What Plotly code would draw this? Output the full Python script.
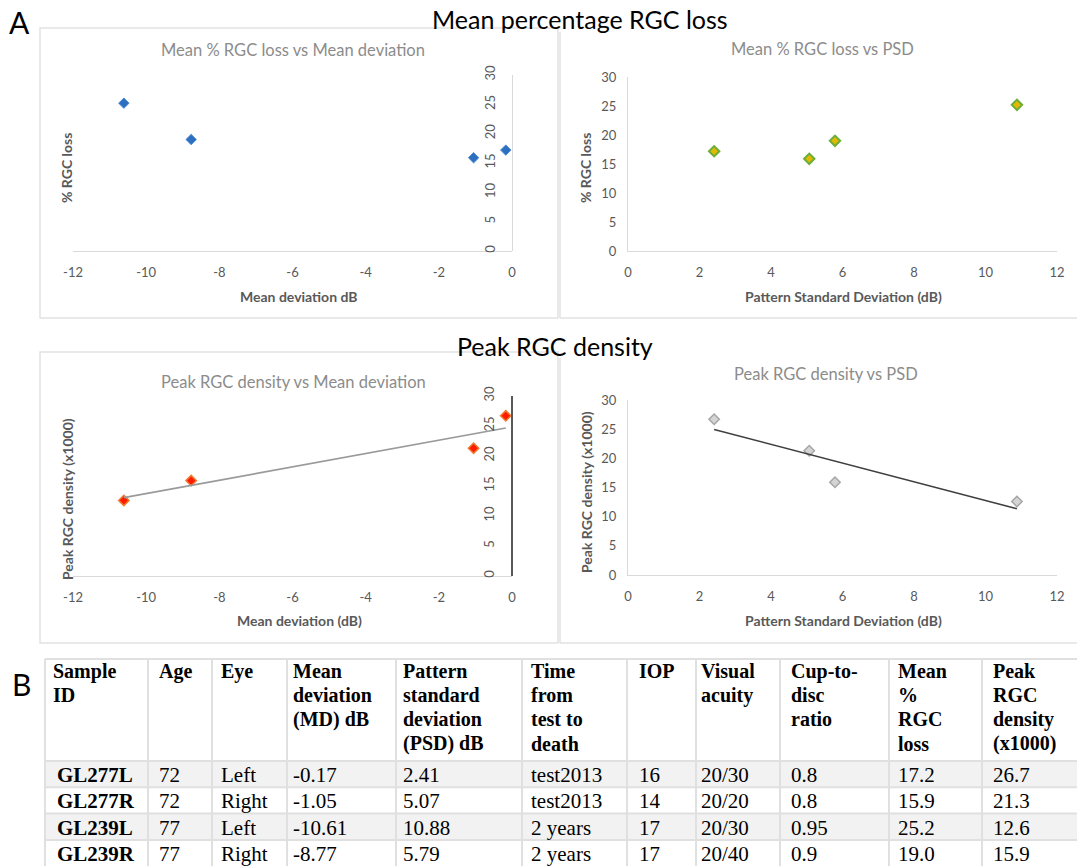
import numpy as np
import plotly.graph_objects as go

# Patient data
sample_ids = ["GL277L", "GL277R", "GL239L", "GL239R"]
ages = [72, 72, 77, 77]
eyes = ["Left", "Right", "Left", "Right"]
md = [-0.17, -1.05, -10.61, -8.77]
psd = [2.41, 5.07, 10.88, 5.79]
time_to_death = ["test2013", "test2013", "2 years", "2 years"]
iop = [16, 14, 17, 17]
visual_acuity = ["20/30", "20/20", "20/30", "20/40"]
cup_disc = ["0.8", "0.8", "0.95", "0.9"]
rgc_loss = [17.2, 15.9, 25.2, 19.0]
peak_density = [26.7, 21.3, 12.6, 15.9]

header_labels = [
    "Sample<br>ID", "Age", "Eye", "Mean<br>deviation<br>(MD) dB",
    "Pattern<br>standard<br>deviation<br>(PSD) dB", "Time<br>from<br>test to<br>death",
    "IOP", "Visual<br>acuity", "Cup-to-<br>disc<br>ratio", "Mean<br>%<br>RGC<br>loss",
    "Peak<br>RGC<br>density<br>(x1000)",
]

# axis ticks
md_ticks = [-12, -10, -8, -6, -4, -2, 0]
md_tick_text = ["-12", "-10", "-8", "-6", "-4", "-2", "0"]
psd_ticks = [0, 2, 4, 6, 8, 10, 12]
y_ticks = [0, 5, 10, 15, 20, 25, 30]

W, H = 1077, 866


def fx(x):
    return x / W


def fy(y):
    return 1 - y / H


GRAY_TXT = "#595959"
TITLE_TXT = "#8c8c8c"
FONT = "Lato"
SERIF = "Liberation Serif"

fig = go.Figure()

# plotting areas in pixels
panels = {
    "tl": dict(x=(73, 512), y=(75, 251)),
    "tr": dict(x=(628, 1057), y=(77, 251)),
    "bl": dict(x=(73, 512), y=(396, 576)),
    "br": dict(x=(628, 1057), y=(400, 575)),
}
axis_ids = {"tl": ("x", "y"), "tr": ("x2", "y2"), "bl": ("x3", "y3"), "br": ("x4", "y4")}

# scatter series
fig.add_trace(go.Scatter(x=md, y=rgc_loss, mode="markers", xaxis="x", yaxis="y",
                         marker=dict(symbol="diamond", size=8, color="#2f6fc0",
                                     line=dict(color="#4a8ad8", width=1))))
fig.add_trace(go.Scatter(x=psd, y=rgc_loss, mode="markers", xaxis="x2", yaxis="y2",
                         marker=dict(symbol="diamond", size=8, color="#e3b800",
                                     line=dict(color="#6cae3a", width=2))))
fig.add_trace(go.Scatter(x=md, y=peak_density, mode="markers", xaxis="x3", yaxis="y3",
                         marker=dict(symbol="diamond", size=8, color="#ff1a00",
                                     line=dict(color="#f07a30", width=1.5))))
fig.add_trace(go.Scatter(x=psd, y=peak_density, mode="markers", xaxis="x4", yaxis="y4",
                         marker=dict(symbol="diamond", size=8, color="#d4d4d4",
                                     line=dict(color="#a6a6a6", width=1.5))))

# linear trendlines
for xs, ys, xa, ya, col in [(md, peak_density, "x3", "y3", "#9a9a9a"),
                            (psd, peak_density, "x4", "y4", "#3f3f3f")]:
    k, b = np.polyfit(xs, ys, 1)
    xe = np.array([min(xs), max(xs)])
    fig.add_trace(go.Scatter(x=xe, y=k * xe + b, mode="lines", xaxis=xa, yaxis=ya,
                             line=dict(color=col, width=1.6)))

tick_font = dict(family=FONT, size=13, color=GRAY_TXT)
layout = dict(
    width=W, height=H,
    margin=dict(l=0, r=0, t=0, b=0, pad=0, autoexpand=False),
    paper_bgcolor="white", plot_bgcolor="rgba(0,0,0,0)", showlegend=False,
)
for key, (xa, ya) in axis_ids.items():
    p = panels[key]
    xdom = [fx(p["x"][0]), fx(p["x"][1])]
    ydom = [fy(p["y"][1]), fy(p["y"][0])]
    xname = "xaxis" if xa == "x" else "xaxis" + xa[1:]
    yname = "yaxis" if ya == "y" else "yaxis" + ya[1:]
    left = key in ("tl", "bl")
    xcfg = dict(domain=xdom, anchor=ya, showgrid=False, zeroline=False, showline=True,
                linecolor="#d9d9d9", linewidth=1, ticks="outside", ticklen=9,
                tickcolor="rgba(0,0,0,0)", tickfont=tick_font, fixedrange=True,
                automargin=False)
    if left:
        xcfg.update(range=[-12, 0], tickvals=md_ticks, ticktext=md_tick_text)
    else:
        xcfg.update(range=[0, 12], tickvals=psd_ticks)
    layout[xname] = xcfg
    ycfg = dict(domain=ydom, range=[0, 30], tickvals=y_ticks, showgrid=False,
                zeroline=False, showline=True, linewidth=1, linecolor="#d9d9d9",
                tickfont=tick_font, fixedrange=True, automargin=False)
    if left:
        ycfg.update(anchor="free", position=xdom[1], side="left", tickangle=-90,
                    ticks="outside", ticklen=12, tickcolor="rgba(0,0,0,0)")
        if key == "bl":
            ycfg.update(linecolor="#595959", linewidth=2)
    else:
        ycfg.update(anchor=xa, ticks="outside", ticklen=8, tickcolor="rgba(0,0,0,0)")
    layout[yname] = ycfg

fig.update_layout(**layout)

# panel frames
shapes = [
    dict(type="rect", x0=fx(40), x1=fx(558), y0=fy(318), y1=fy(28)),
    dict(type="line", x0=fx(560), x1=fx(560), y0=fy(318), y1=fy(32)),
    dict(type="line", x0=fx(560), x1=1, y0=fy(318), y1=fy(318)),
    dict(type="rect", x0=fx(40), x1=fx(558), y0=fy(643), y1=fy(352)),
    dict(type="line", x0=fx(560), x1=fx(560), y0=fy(643), y1=fy(358)),
    dict(type="line", x0=fx(560), x1=1, y0=fy(643), y1=fy(643)),
]
for s in shapes:
    s.update(xref="paper", yref="paper", line=dict(color="#e2e2e2", width=1.5))


def note(text, x, y, size, color, bold=False, angle=0, family=FONT, xanchor="center"):
    fig.add_annotation(text=f"<b>{text}</b>" if bold else text, x=fx(x), y=fy(y),
                       xref="paper", yref="paper", showarrow=False, textangle=angle,
                       font=dict(family=family, size=size, color=color),
                       xanchor=xanchor, yanchor="middle", borderpad=0)


# section labels and headings
note("A", 20, 22, 30, "black")
note("B", 21, 684, 30, "black")
note("Mean percentage RGC loss", 580, 19, 25, "black")
note("Peak RGC density", 555, 346, 25, "black")

# chart titles
note("Mean % RGC loss vs Mean deviation", 293, 50, 16.5, TITLE_TXT)
note("Mean % RGC loss vs PSD", 822, 49, 16.5, TITLE_TXT)
note("Peak RGC density vs Mean deviation", 293, 382, 16.5, TITLE_TXT)
note("Peak RGC density vs PSD", 826, 374, 16.5, TITLE_TXT)

# axis titles
note("Mean deviation dB", 299, 296, 14, GRAY_TXT, bold=True)
note("Pattern Standard Deviation (dB)", 843, 296, 14, GRAY_TXT, bold=True)
note("Mean deviation (dB)", 299, 620, 14, GRAY_TXT, bold=True)
note("Pattern Standard Deviation (dB)", 843, 620, 14, GRAY_TXT, bold=True)
note("% RGC loss", 66, 168, 14, GRAY_TXT, bold=True, angle=-90)
note("% RGC loss", 585, 168, 14, GRAY_TXT, bold=True, angle=-90)
note("Peak RGC density (x1000)", 67, 499, 14, GRAY_TXT, bold=True, angle=-90)
note("Peak RGC density (x1000)", 586, 492, 14, GRAY_TXT, bold=True, angle=-90)

# summary table drawn as a grid
col_edges = [45, 148, 212, 287, 396, 522, 627, 696, 780, 889, 982, W]
text_x = [52, 158, 220, 292, 402, 530, 638, 700, 790, 897, 992]
header_top, header_bottom, row_h = 659, 761, 26.3
row_edges = [header_bottom + i * row_h for i in range(len(sample_ids) + 1)]
GRID = "#e0e0e0"

for i in range(len(sample_ids)):
    if i % 2 == 0:
        shapes.append(dict(type="rect", xref="paper", yref="paper", layer="below",
                           x0=fx(col_edges[0]), x1=fx(col_edges[-1]),
                           y0=fy(row_edges[i + 1]), y1=fy(row_edges[i]),
                           fillcolor="#f2f2f2", line=dict(width=0)))
for yy in [header_top] + row_edges[:-1]:
    shapes.append(dict(type="line", xref="paper", yref="paper", x0=fx(col_edges[0]),
                       x1=fx(col_edges[-1]), y0=fy(yy), y1=fy(yy),
                       line=dict(color=GRID, width=2)))
for xx in col_edges[:-1]:
    shapes.append(dict(type="line", xref="paper", yref="paper", x0=fx(xx), x1=fx(xx),
                       y0=0, y1=fy(header_top), line=dict(color=GRID, width=2)))
fig.update_layout(shapes=shapes)

line_gap = 24.2
for c, label in enumerate(header_labels):
    for j, part in enumerate(label.split("<br>")):
        note(part, text_x[c], 671 + j * line_gap, 20, "black", bold=True,
             family=SERIF, xanchor="left")

columns = [
    sample_ids, ages, eyes, [f"{v:.2f}" for v in md], [f"{v:.2f}" for v in psd],
    time_to_death, iop, visual_acuity, cup_disc,
    [f"{v:.1f}" for v in rgc_loss], [f"{v:.1f}" for v in peak_density],
]
for c, col in enumerate(columns):
    for r, val in enumerate(col):
        yc = (row_edges[r] + row_edges[r + 1]) / 2 + 1
        note(str(val), text_x[c] + (4 if c == 0 else 0), yc, 21, "black",
             bold=(c == 0), family=SERIF, xanchor="left")

fig.write_html("out.html")
